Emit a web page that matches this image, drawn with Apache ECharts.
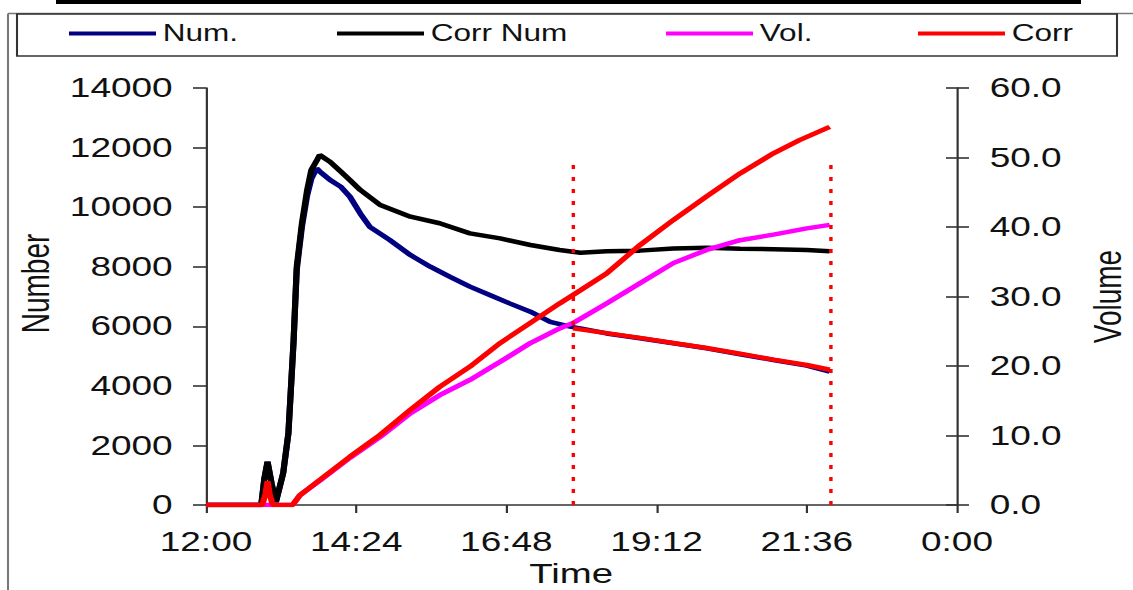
<!DOCTYPE html>
<html>
<head>
<meta charset="utf-8">
<script src="https://cdn.jsdelivr.net/npm/echarts@6/dist/echarts.min.js"></script>
<style>
  html, body { margin: 0; padding: 0; background: #fff; overflow: hidden; }
  #chart { height: 590px; transform-origin: 0 0; }
</style>
</head>
<body>
<div id="chart"></div>
<script>
// the source picture is stretched sideways, so draw narrow and stretch the page element
const S = 1.37;
const W = 1133 / S;

// minutes after 12:00
const xTickLabels = ['12:00', '14:24', '16:48', '19:12', '21:36', '0:00'];
const volumeTickLabels = ['0.0', '10.0', '20.0', '30.0', '40.0', '50.0', '60.0'];

const numTime = [0, 53, 56, 59, 63, 67, 74, 79, 84, 87, 92, 97, 101, 106, 109, 119, 129, 138, 148, 157, 176, 196, 215, 234, 253, 272, 291, 311, 330, 349, 359, 384, 416, 448, 480, 512, 544, 576, 598];
const numValues = [0, 0, 900, 1450, 700, 100, 1070, 2400, 5500, 7900, 9350, 10400, 10950, 11300, 11200, 10910, 10690, 10350, 9780, 9340, 8900, 8390, 8000, 7660, 7330, 7050, 6770, 6490, 6150, 5990, 5930, 5760, 5600, 5430, 5260, 5060, 4870, 4680, 4480];

const corrNumTime = [0, 53, 56, 59, 63, 67, 74, 79, 84, 87, 92, 97, 101, 106, 109, 119, 129, 138, 148, 167, 196, 224, 253, 282, 311, 339, 359, 384, 416, 448, 480, 512, 544, 576, 598];
const corrNumValues = [0, 0, 900, 1450, 700, 100, 1070, 2420, 5540, 8000, 9470, 10580, 11250, 11550, 11750, 11520, 11200, 10910, 10575, 10070, 9680, 9460, 9120, 8950, 8730, 8560, 8470, 8520, 8540, 8610, 8640, 8600, 8590, 8560, 8520];

const volTime = [0, 83, 90, 109, 138, 167, 196, 224, 253, 282, 311, 339, 352, 384, 416, 448, 480, 512, 544, 576, 598];
const volValues = [0, 0, 1.4, 3.5, 6.8, 9.8, 13.2, 15.8, 18.0, 20.6, 23.3, 25.4, 26.2, 29.0, 31.9, 34.8, 36.7, 38.1, 38.9, 39.8, 40.3];

const corrTime = [0, 54, 57, 59, 61, 64, 83, 90, 109, 138, 167, 196, 224, 253, 282, 311, 339, 359, 384, 416, 448, 480, 512, 544, 569, 598];
const corrValues = [0, 0, 1.6, 3.4, 1.6, 0, 0, 1.4, 3.6, 6.95, 10.1, 13.7, 17.0, 19.9, 23.3, 26.2, 29.0, 30.9, 33.3, 37.4, 41.0, 44.4, 47.7, 50.6, 52.5, 54.4];

// corrected number after the first marker
const corrNumLateTime = [352, 384, 416, 448, 480, 512, 544, 576, 598];
const corrNumLateValues = [5930, 5770, 5610, 5440, 5270, 5080, 4880, 4700, 4540];

// dotted markers: time, and top in number units
const markerTimes = [352, 599];
const markerTop = 11500;

const pairs = (t, v) => t.map((x, i) => [x, v[i]]);

const el = document.getElementById('chart');
el.style.width = W + 'px';
el.style.transform = 'scaleX(' + S + ')';

const chart = echarts.init(el, null, {renderer: 'svg'});

const font = 'Liberation Sans, Arial, sans-serif';
const axisColor = '#333';
const sx = x => x / S;

const legendItem = (name, x) => ({
    data: [name],
    left: sx(x),
    top: 22,
    padding: 0,
    icon: 'rect',
    itemWidth: sx(87),
    itemHeight: 4,
    itemGap: 0,
    textStyle: {fontFamily: font, fontSize: 23, color: '#111'},
});

const option = {
    animation: false,
    backgroundColor: '#fff',
    legend: [
        legendItem('Num.', 69),
        legendItem('Corr Num', 337),
        legendItem('Vol.', 666),
        legendItem('Corr', 918),
    ],
    grid: {
        left: sx(206),
        right: W - sx(957),
        top: 88,
        bottom: 85,
        containLabel: false,
        outerBoundsMode: 'none',
    },
    xAxis: {
        type: 'value',
        min: 0,
        max: 720,
        interval: 144,
        name: 'Time',
        nameLocation: 'middle',
        nameGap: 51,
        nameTextStyle: {fontFamily: font, fontSize: 28, color: '#111', padding: [0, 15, 0, 0]},
        axisLine: {lineStyle: {color: axisColor, width: 1.6}},
        axisTick: {length: 8, lineStyle: {color: axisColor, width: 1.6}},
        axisLabel: {
            margin: 23,
            fontFamily: font,
            fontSize: 27,
            color: '#111',
            formatter: v => xTickLabels[Math.round(v / 144)],
        },
        splitLine: {show: false},
    },
    yAxis: [
        {
            type: 'value',
            position: 'left',
            min: 0,
            max: 14000,
            interval: 2000,
            name: 'Number',
            nameLocation: 'middle',
            nameRotate: 90,
            nameGap: 108,
            nameTextStyle: {fontFamily: font, fontSize: 28, color: '#111', padding: [0, 0, 0, 26]},
            axisLine: {show: true, lineStyle: {color: axisColor, width: 1.6}},
            axisTick: {show: true, length: sx(13), lineStyle: {color: axisColor, width: 1.6}},
            axisLabel: {
                margin: sx(34) - sx(13) + 9,
                fontFamily: font,
                fontSize: 27,
                color: '#111',
                formatter: v => String(v),
            },
            splitLine: {show: false},
        },
        {
            type: 'value',
            position: 'right',
            min: 0,
            max: 60,
            interval: 10,
            name: 'Volume',
            nameLocation: 'middle',
            nameRotate: 90,
            nameGap: 96,
            nameTextStyle: {fontFamily: font, fontSize: 28, color: '#111'},
            axisLine: {show: true, lineStyle: {color: axisColor, width: 1.6}},
            axisTick: {show: true, length: sx(12), lineStyle: {color: axisColor, width: 1.6}},
            axisLabel: {
                margin: sx(31) - sx(12) + 10,
                fontFamily: font,
                fontSize: 27,
                color: '#111',
                formatter: v => volumeTickLabels[Math.round(v / 10)],
            },
            splitLine: {show: false},
        },
        {
            // inner half of the right axis ticks
            type: 'value',
            position: 'right',
            min: 0,
            max: 60,
            interval: 10,
            axisLine: {show: false},
            axisTick: {show: true, inside: true, length: sx(11), lineStyle: {color: axisColor, width: 1.6}},
            axisLabel: {show: false},
            splitLine: {show: false},
        },
    ],
    graphic: [
        {type: 'rect', shape: {x: sx(56), y: 0, width: sx(1081 - 56), height: 4}, style: {fill: '#000'}},
        {type: 'line', shape: {x1: sx(8), y1: 13.5, x2: W, y2: 13.5}, style: {stroke: '#777', lineWidth: 1.5}},
        {type: 'line', shape: {x1: sx(8), y1: 13.5, x2: sx(8), y2: 590}, style: {stroke: '#777', lineWidth: 1.5}},
        {type: 'rect', shape: {x: sx(17), y: 14, width: sx(1117 - 17), height: 42}, style: {fill: 'none', stroke: '#333', lineWidth: 1.5}},
    ],
    series: [
        {
            name: 'Num.',
            type: 'line',
            yAxisIndex: 0,
            showSymbol: false,
            symbol: 'none',
            color: '#000080',
            lineStyle: {width: 4.5, color: '#000080'},
            data: pairs(numTime, numValues),
        },
        {
            name: 'Corr Num',
            type: 'line',
            yAxisIndex: 0,
            showSymbol: false,
            symbol: 'none',
            color: '#000',
            lineStyle: {width: 4.5, color: '#000'},
            data: pairs(corrNumTime, corrNumValues),
            markLine: {
                silent: true,
                symbol: 'none',
                label: {show: false},
                lineStyle: {color: '#ff0000', width: 2.5, type: [4, 8]},
                data: markerTimes.map(t => [{coord: [t, 0]}, {coord: [t, markerTop]}]),
            },
        },
        {
            name: 'Vol.',
            type: 'line',
            yAxisIndex: 1,
            showSymbol: false,
            symbol: 'none',
            color: '#ff00ff',
            lineStyle: {width: 4.5, color: '#ff00ff'},
            data: pairs(volTime, volValues),
        },
        {
            name: 'Corr',
            type: 'line',
            yAxisIndex: 1,
            showSymbol: false,
            symbol: 'none',
            color: '#ff0000',
            lineStyle: {width: 4.5, color: '#ff0000'},
            data: pairs(corrTime, corrValues),
        },
        {
            name: 'Corr',
            type: 'line',
            yAxisIndex: 0,
            showSymbol: false,
            symbol: 'none',
            color: '#ff0000',
            lineStyle: {width: 4.5, color: '#ff0000'},
            data: pairs(corrNumLateTime, corrNumLateValues),
        },
    ],
};

chart.setOption(option);
</script>
</body>
</html>
